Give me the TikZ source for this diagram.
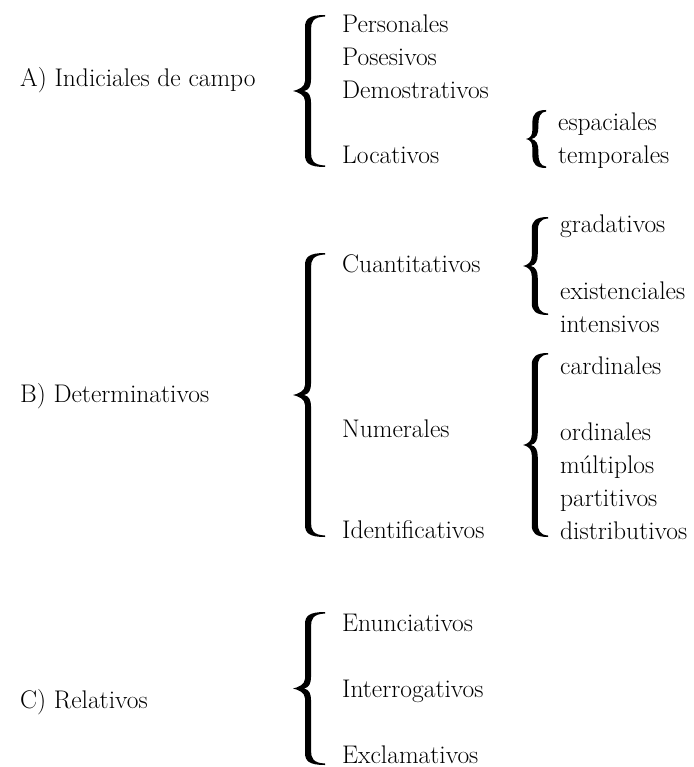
\documentclass[tikz,border=0pt]{standalone}
\usepackage{tikz}
\usetikzlibrary{positioning}

\tikzset{
  head/.style={anchor=base west, inner sep=0pt, font=\fontsize{25.5}{30}\selectfont},
  leaf/.style={anchor=base west, inner sep=0pt, font=\fontsize{25.5}{30}\selectfont},
  bracefill/.style={fill=black},
}
% curly brace: left x, top y, bottom y, width
\newcommand\curlybrace[4]{%
  \pgfmathsetmacro\brMid{(#2+#3)/2}%
  \pgfmathsetmacro\brStem{#1+0.47*#4}%
  \fill[bracefill] ({#1+#4},{#2}) .. controls ({\brStem+1},{#2}) and ({\brStem-3},{#2+4}) .. ({\brStem-3},{#2+12})
    -- ({\brStem-3},{\brMid-10}) .. controls ({\brStem-3},{\brMid-4}) and ({#1+5},{\brMid-1}) .. ({#1},{\brMid})
    .. controls ({#1+5},{\brMid+1}) and ({\brStem-3},{\brMid+4}) .. ({\brStem-3},{\brMid+10})
    -- ({\brStem-3},{#3-12}) .. controls ({\brStem-3},{#3-4}) and ({\brStem+1},{#3}) .. ({#1+#4},{#3})
    -- ({#1+#4},{#3-1.5}) .. controls ({\brStem+5},{#3-2}) and ({\brStem+3},{#3-7}) .. ({\brStem+3},{#3-14})
    -- ({\brStem+3},{\brMid+12}) .. controls ({\brStem+3},{\brMid+5}) and ({\brStem+1},{\brMid+1}) .. ({\brStem-4},{\brMid})
    .. controls ({\brStem+1},{\brMid-1}) and ({\brStem+3},{\brMid-5}) .. ({\brStem+3},{\brMid-12})
    -- ({\brStem+3},{#2+14}) .. controls ({\brStem+3},{#2+7}) and ({\brStem+5},{#2+2}) .. ({#1+#4},{#2+1.5}) -- cycle;
}

\begin{document}
\begin{tikzpicture}[x=1pt,y=-1pt,node distance=33pt]
\useasboundingbox (0,0) rectangle (693,767);

% A) indiciales de campo
\node[head] (A) at (20,87) {A) Indiciales de campo};
\curlybrace{293}{15}{167}{32}
\node[leaf] (pers) at (342,33) {Personales};
\node (pose) [below=of pers.base west, leaf] {Posesivos};
\node (demo) [below=of pose.base west, leaf] {Demostrativos};
\node[leaf] (loca) at (342,164) {Locativos};
\curlybrace{526}{110}{168}{20}
\node[leaf] (espa) at (558,131) {espaciales};
\node (temp) [below=of espa.base west, leaf] {temporales};

% B) determinativos
\node[head] (B) at (20,402) {B) Determinativos};
\curlybrace{293}{253}{537}{32}
\node[leaf] (cuan) at (342,272) {Cuantitativos};
\node[leaf] (nume) at (342,437) {Numerales};
\node[leaf] (iden) at (342,538) {Identificativos};
\curlybrace{523}{217}{315}{25}
\node[leaf] (grad) at (560,232) {gradativos};
\node[leaf] (exis) at (560,299) {existenciales};
\node (inte) [below=of exis.base west, leaf] {intensivos};
\curlybrace{523}{353}{537}{25}
\node[leaf] (card) at (560,374) {cardinales};
\node[leaf] (ordi) at (560,440) {ordinales};
\node (mult) [below=of ordi.base west, leaf] {múltiplos};
\node (part) [below=of mult.base west, leaf] {partitivos};
\node (dist) [below=of part.base west, leaf] {distributivos};

% C) relativos
\node[head] (C) at (20,708) {C) Relativos};
\curlybrace{293}{612}{765}{32}
\node[leaf] (enun) at (342,631) {Enunciativos};
\node (inro) [below=66pt of enun.base west, leaf] {Interrogativos};
\node (excl) [below=66pt of inro.base west, leaf] {Exclamativos};
\end{tikzpicture}
\end{document}
